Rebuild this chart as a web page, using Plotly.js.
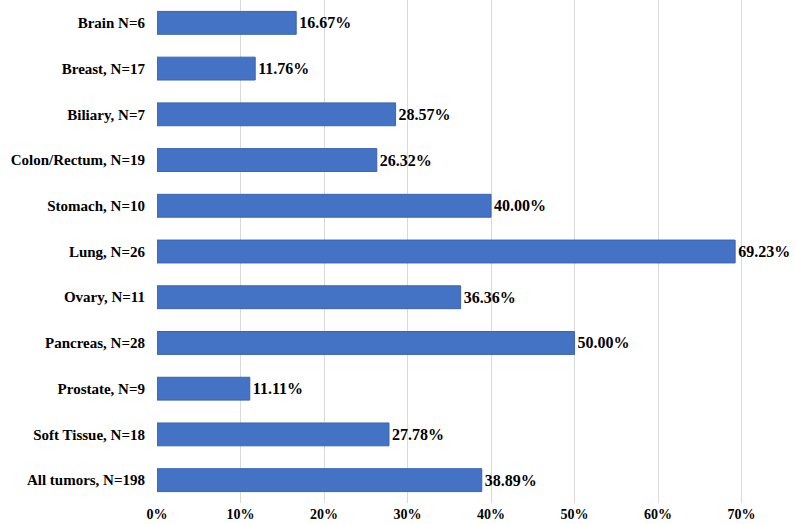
<!DOCTYPE html>
<html>
<head>
<meta charset="utf-8">
<script src="https://cdn.plot.ly/plotly-3.0.1.min.js"></script>
<style>
  html, body { margin: 0; padding: 0; background: #fff; }
  #chart { width: 796px; height: 524px; }
</style>
</head>
<body>
<div id="chart"></div>
<script>
const categories = [
  "Brain N=6",
  "Breast, N=17",
  "Biliary, N=7",
  "Colon/Rectum, N=19",
  "Stomach, N=10",
  "Lung, N=26",
  "Ovary, N=11",
  "Pancreas, N=28",
  "Prostate, N=9",
  "Soft Tissue, N=18",
  "All tumors, N=198"
];
const rates = [0.1667, 0.1176, 0.2857, 0.2632, 0.4000, 0.6923, 0.3636, 0.5000, 0.1111, 0.2778, 0.3889];
const xTicks = [0, 0.1, 0.2, 0.3, 0.4, 0.5, 0.6, 0.7];
const xTickLabels = ["0%", "10%", "20%", "30%", "40%", "50%", "60%", "70%"];

const serif = "Liberation Serif, Times New Roman, serif";

const data = [{
  type: "bar",
  orientation: "h",
  y: categories,
  x: rates,
  width: 0.5,
  marker: {
    color: "#4472c4",
    line: { color: "#3a64b0", width: 1 }
  },
  text: rates.map(v => (v * 100).toFixed(2) + "%"),
  textposition: "outside",
  cliponaxis: false,
  textfont: { family: serif, size: 16, color: "#000", weight: "bold" },
  hoverinfo: "none"
}];

const layout = {
  width: 796,
  height: 524,
  margin: { l: 157, r: 6, t: 0, b: 21 },
  paper_bgcolor: "#fff",
  plot_bgcolor: "#fff",
  showlegend: false,
  xaxis: {
    range: [0, 0.758],
    tickvals: xTicks,
    ticktext: xTickLabels,
    showgrid: true,
    gridcolor: "#d9d9d9",
    gridwidth: 1,
    zeroline: false,
    showline: false,
    ticks: "",
    ticklabelstandoff: 1,
    tickfont: { family: serif, size: 14, color: "#000", weight: "bold" },
    fixedrange: true
  },
  yaxis: {
    autorange: "reversed",
    showgrid: false,
    zeroline: false,
    showline: false,
    ticks: "",
    ticklabelstandoff: 11,
    tickfont: { family: serif, size: 15, color: "#000", weight: "bold" },
    fixedrange: true
  }
};

Plotly.newPlot("chart", data, layout, { displayModeBar: false, staticPlot: true });
</script>
</body>
</html>
